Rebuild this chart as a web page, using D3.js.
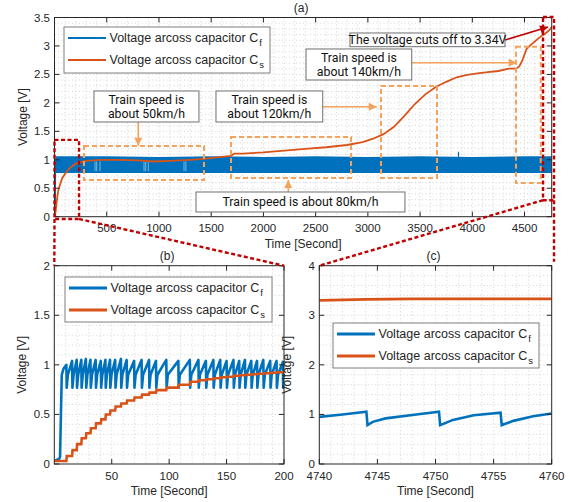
<!DOCTYPE html>
<html lang="en">
<head>
<meta charset="UTF-8">
<script src="https://d3js.org/d3.v7.min.js"></script>
<title>Capacitor voltages</title>
<style>
  body { margin: 0; background: #fff; }
  svg text { font-family: "Liberation Sans", Arial, sans-serif; fill: #262626; }
  .note text { font-family: Roboto, sans-serif; fill: #111; }
</style>
</head>
<body>
<div id="chart"></div>
<script>
// ---------- data ----------
// (a) whole run
var aTime = [0, 10, 20, 35, 50, 75, 100, 150, 200, 250, 300, 450, 600, 800, 950, 1100, 1300, 1450, 1600, 1690,
             1720, 1800, 2000, 2200, 2400, 2600, 2800, 2950, 3050, 3150, 3250, 3350, 3450, 3550, 3650, 3750, 3850, 3950, 4050, 4150,
             4250, 4350, 4420, 4450, 4480, 4520, 4560, 4600, 4650, 4700, 4740, 4760];
var aCs = [0, 0.08, 0.25, 0.45, 0.55, 0.68, 0.75, 0.86, 0.93, 0.96, 0.98, 1.0, 1.0, 0.99, 0.97, 0.98, 1.0, 1.02, 1.05, 1.07,
           1.11, 1.11, 1.13, 1.16, 1.19, 1.22, 1.26, 1.31, 1.37, 1.45, 1.58, 1.77, 1.98, 2.15, 2.28, 2.37, 2.45, 2.49, 2.52, 2.54,
           2.56, 2.60, 2.60, 2.64, 2.75, 2.95, 3.02, 3.08, 3.16, 3.22, 3.28, 3.34];
// Cf oscillates too fast to resolve at this scale: start-up + envelope of the band
var aCfStartT = [0, 6, 9];
var aCfStartV = [0, 0.02, 1.0];
var aBandT  = [9, 500, 1000, 1500, 2000, 2500, 3000, 3500, 4000, 4500, 4760];
var aBandHi = [1.06, 1.06, 1.05, 1.06, 1.05, 1.06, 1.05, 1.06, 1.05, 1.06, 1.06];
var aBandLo = [0.77, 0.77, 0.77, 0.77, 0.77, 0.77, 0.77, 0.77, 0.77, 0.77, 0.77];
var aGapT = [388, 404, 436, 857, 873, 898, 1240, 1258];
var aSpikeT = 3868, aSpikeV = 1.14;

// (b) first 200 s
var bStartT = [0, 4, 5, 6.5, 8];
var bStartV = [0.03, 0.05, 0.07, 0.9, 0.96];
var bPeakT = [10.5, 15.5, 19.5, 23.5, 27.5, 31.5, 36, 40.5, 44.5, 48.5, 53, 58, 63, 69.5, 76, 82.5, 88.5,
              97.5, 108, 118, 125.5, 132, 138.5, 144.5, 150, 156, 161, 166, 171.5, 176.5, 182, 188, 193.5, 199];
var bPeakV = [1.0, 1.04, 1.05, 1.05, 1.06, 1.05, 1.05, 1.04, 1.05, 1.05, 1.05, 1.06, 1.05, 1.04, 1.05, 1.05, 1.04,
              1.05, 1.04, 1.05, 1.05, 1.04, 1.05, 1.05, 1.04, 1.05, 1.04, 1.05, 1.04, 1.04, 1.05, 1.04, 1.04, 1.03];
var bTroughV = 0.77;
var bKneeDt = 1.0, bKneeV = 0.9;   // recharge is fast at first, then flattens
var bEndV = 0.95;
var bCs0 = 0.03;
var bCsStep = [0.08, 0.14, 0.20, 0.26, 0.31, 0.36, 0.41, 0.45, 0.50, 0.54, 0.58, 0.61, 0.64, 0.67, 0.70, 0.72, 0.745,
               0.77, 0.80, 0.83, 0.845, 0.855, 0.865, 0.875, 0.88, 0.89, 0.895, 0.90, 0.905, 0.91, 0.915, 0.92, 0.925, 0.93];

// (c) last 20 s
var cTime = [4740, 4742, 4744.05, 4744.15, 4744.6, 4745.7, 4748.0, 4750.3, 4750.4, 4751.5, 4753.3, 4755.6, 4755.7, 4756.7, 4758.4, 4760];
var cCf   = [0.95, 1.00, 1.055, 0.785, 0.85, 0.92, 0.99, 1.055, 0.785, 0.89, 0.985, 1.035, 0.785, 0.87, 0.965, 1.02];
var cCsT = [4740, 4742, 4744, 4748, 4760];
var cCs  = [3.30, 3.31, 3.32, 3.33, 3.33];

var legendLabels = ["f", "s"];

// ---------- drawing ----------
var blue = "#0072BD", orange = "#D95319", noteOrange = "#F5A25D", red = "#C00000";

var svg = d3.select("#chart").append("svg").attr("width", 570).attr("height", 502);
var defs = svg.append("defs");
[["ahOrange", noteOrange], ["ahRed", red]].forEach(function (m) {
  defs.append("marker").attr("id", m[0]).attr("viewBox", "0 0 10 10")
    .attr("refX", 10).attr("refY", 5).attr("markerUnits", "userSpaceOnUse")
    .attr("markerWidth", 9).attr("markerHeight", 8).attr("orient", "auto")
    .append("path").attr("d", "M0,0L10,5L0,10z").attr("fill", m[1]);
});

function panel(id, box, xDom, yDom, xTicks, yTicks, xMinor, yMinor, title) {
  var x = d3.scaleLinear().domain(xDom).range([box.l, box.r]);
  var y = d3.scaleLinear().domain(yDom).range([box.b, box.t]);
  var g = svg.append("g");
  defs.append("clipPath").attr("id", "clip" + id).append("rect")
    .attr("x", box.l).attr("y", box.t).attr("width", box.r - box.l).attr("height", box.b - box.t);

  // grid
  var grid = g.append("g");
  grid.selectAll(".mx").data(d3.range(xDom[0], xDom[1], xMinor).slice(1)).enter().append("line")
    .attr("x1", x).attr("x2", x).attr("y1", box.t).attr("y2", box.b)
    .attr("stroke", "#d4d4d4").attr("stroke-dasharray", "1,2.5");
  grid.selectAll(".my").data(d3.range(yDom[0], yDom[1], yMinor).slice(1)).enter().append("line")
    .attr("y1", y).attr("y2", y).attr("x1", box.l).attr("x2", box.r)
    .attr("stroke", "#d4d4d4").attr("stroke-dasharray", "1,2.5");

  var plot = g.append("g").attr("clip-path", "url(#clip" + id + ")");

  var ax = g.append("g");
  ax.append("rect").attr("x", box.l).attr("y", box.t).attr("width", box.r - box.l).attr("height", box.b - box.t)
    .attr("fill", "none").attr("stroke", "#262626").attr("stroke-width", 1);
  ax.selectAll(".tx").data(xTicks).enter().append("path")
    .attr("d", function (d) { return "M" + x(d) + "," + box.b + "v-5M" + x(d) + "," + box.t + "v5"; })
    .attr("stroke", "#262626");
  ax.selectAll(".ty").data(yTicks).enter().append("path")
    .attr("d", function (d) { return "M" + box.l + "," + y(d) + "h5M" + box.r + "," + y(d) + "h-5"; })
    .attr("stroke", "#262626");
  ax.selectAll(".lx").data(xTicks).enter().append("text")
    .attr("x", x).attr("y", box.b + 15.5).attr("text-anchor", "middle").attr("font-size", 11.5)
    .text(function (d) { return String(d); });
  ax.selectAll(".ly").data(yTicks).enter().append("text")
    .attr("x", box.l - 4.5).attr("y", y).attr("dy", "0.35em").attr("text-anchor", "end").attr("font-size", 11.5)
    .text(function (d) { return String(d); });
  ax.append("text").attr("x", (box.l + box.r) / 2).attr("y", box.b + 31).attr("text-anchor", "middle")
    .attr("font-size", 12).text("Time [Second]");
  ax.append("text").attr("transform", "translate(" + (box.l - 28) + "," + ((box.t + box.b) / 2) + ") rotate(-90)")
    .attr("text-anchor", "middle").attr("font-size", 12).text("Voltage [V]");
  ax.append("text").attr("x", (box.l + box.r) / 2 - 2).attr("y", box.t - 6).attr("text-anchor", "middle")
    .attr("font-size", 12).text(title);
  return { x: x, y: y, plot: plot, box: box };
}

function legend(px, py, w, h, lw) {
  var lg = svg.append("g");
  lg.append("rect").attr("x", px).attr("y", py).attr("width", w).attr("height", h)
    .attr("fill", "#fff").attr("stroke", "#7f7f7f").attr("stroke-width", 1);
  [blue, orange].forEach(function (c, i) {
    var yy = py + 11 + i * 22;
    lg.append("line").attr("x1", px + 4).attr("x2", px + 42).attr("y1", yy).attr("y2", yy)
      .attr("stroke", c).attr("stroke-width", lw);
    var t = lg.append("text").attr("x", px + 45.5).attr("y", yy + 4.3).attr("font-size", 12.5);
    t.append("tspan").text("Voltage arcoss capacitor C");
    t.append("tspan").attr("dy", 4).attr("font-size", 9.5).attr("dx", 1).text(legendLabels[i]);
  });
}

var line = function (p) {
  return d3.line().x(function (d) { return p.x(d[0]); }).y(function (d) { return p.y(d[1]); });
};

// ----- panel (a)
var A = panel("a", { l: 54.5, r: 551.7, t: 17.5, b: 216.7 }, [0, 4760], [0, 3.5],
  [500, 1000, 1500, 2000, 2500, 3000, 3500, 4000, 4500], [0, 0.5, 1, 1.5, 2, 2.5, 3, 3.5], 100, 0.1, "(a)");
A.plot.append("path").datum(aCfStartT.map(function (t, i) { return [t, aCfStartV[i]]; }))
  .attr("d", line(A)).attr("fill", "none").attr("stroke", blue).attr("stroke-width", 1.5);
A.plot.append("path").datum(aBandT.map(function (t, i) { return [t, aBandLo[i], aBandHi[i]]; }))
  .attr("d", d3.area().x(function (d) { return A.x(d[0]); }).y0(function (d) { return A.y(d[1]); }).y1(function (d) { return A.y(d[2]); }))
  .attr("fill", blue);
A.plot.selectAll(".gap").data(aGapT).enter().append("line")
  .attr("x1", A.x).attr("x2", A.x).attr("y1", A.y(0.97)).attr("y2", A.y(0.80))
  .attr("stroke", "#ffffff").attr("stroke-opacity", 0.6).attr("stroke-width", 0.8);
A.plot.append("line").attr("x1", A.x(aSpikeT)).attr("x2", A.x(aSpikeT)).attr("y1", A.y(1.04)).attr("y2", A.y(aSpikeV))
  .attr("stroke", blue).attr("stroke-width", 1.2);
A.plot.append("path").datum(aTime.map(function (t, i) { return [t, aCs[i]]; }))
  .attr("d", line(A)).attr("fill", "none").attr("stroke", orange).attr("stroke-width", 1.8);

// ----- panel (b)
var B = panel("b", { l: 54.3, r: 284, t: 265.7, b: 464 }, [0, 200], [0, 2],
  [50, 100, 150, 200], [0, 0.5, 1, 1.5, 2], 10, 0.1, "(b)");
var bCf = bStartT.map(function (t, i) { return [t, bStartV[i]]; });
bPeakT.forEach(function (t, i) {
  bCf.push([t, bPeakV[i]]);
  bCf.push([t + 0.3, bTroughV]);
  if (t + 0.3 + bKneeDt < 200) bCf.push([t + 0.3 + bKneeDt, bKneeV]);
});
bCf.push([200, bEndV]);
var bCsPts = [[0, bCs0]];
bPeakT.forEach(function (t, i) {
  bCsPts.push([t, i ? bCsStep[i - 1] : bCs0]);
  bCsPts.push([t + 0.4, bCsStep[i]]);
});
bCsPts.push([200, bCsStep[bCsStep.length - 1]]);
B.plot.append("path").datum(bCf).attr("d", line(B)).attr("fill", "none")
  .attr("stroke", blue).attr("stroke-width", 2.6).attr("stroke-linejoin", "round");
B.plot.append("path").datum(bCsPts).attr("d", line(B)).attr("fill", "none")
  .attr("stroke", orange).attr("stroke-width", 2.6);

// ----- panel (c)
var C = panel("c", { l: 319.3, r: 551.7, t: 265.7, b: 464 }, [4740, 4760], [0, 4],
  [4740, 4745, 4750, 4755, 4760], [0, 1, 2, 3, 4], 1, 0.2, "(c)");
C.plot.append("path").datum(cTime.map(function (t, i) { return [t, cCf[i]]; }))
  .attr("d", line(C)).attr("fill", "none").attr("stroke", blue).attr("stroke-width", 2.6);
C.plot.append("path").datum(cCsT.map(function (t, i) { return [t, cCs[i]]; }))
  .attr("d", line(C)).attr("fill", "none").attr("stroke", orange).attr("stroke-width", 2.6);

// legends
legend(64, 27, 206, 46, 2.2);
legend(65, 277, 207, 45, 3);
legend(333, 323, 206, 45, 3);

// ----- annotations on (a), in data units [t0, t1, v0, v1]
var notes = svg.append("g").attr("class", "note");
var dashBoxes = [[282, 1431, 0.645, 1.242], [1690, 2839, 0.68, 1.40], [3126, 3662, 0.68, 2.297], [4418, 4655, 0.592, 2.987]];
notes.selectAll(".db").data(dashBoxes).enter().append("rect")
  .attr("x", function (d) { return A.x(d[0]); }).attr("y", function (d) { return A.y(d[3]); })
  .attr("width", function (d) { return A.x(d[1]) - A.x(d[0]); }).attr("height", function (d) { return A.y(d[2]) - A.y(d[3]); })
  .attr("fill", "none").attr("stroke", noteOrange).attr("stroke-width", 2).attr("stroke-dasharray", "5,3");

var textBoxes = [
  { b: [378, 1383, 1.664, 2.209], t: ["Train speed is", "about 50km/h"] },
  { b: [1546, 2568, 1.664, 2.209], t: ["Train speed is", "about 120km/h"] },
  { b: [1355, 3355, 0.083, 0.434], t: ["Train speed is about 80km/h"] },
  { b: [2408, 3420, 2.402, 2.947], t: ["Train speed is", "about 140km/h"] },
  { b: [2829, 4313, 2.987, 3.228], t: ["The voltage cuts off to 3.34V"] }
];
var arrows = [
  { p: [802, 802, 1.664, 1.248], c: noteOrange, m: "ahOrange" },
  { p: [2568, 3085, 1.933, 1.933], c: noteOrange, m: "ahOrange" },
  { p: [2238, 2238, 0.434, 0.645], c: noteOrange, m: "ahOrange" },
  { p: [3420, 4425, 2.706, 2.706], c: noteOrange, m: "ahOrange" },
  { p: [4313, 4725, 3.105, 3.333], c: red, m: "ahRed" }
];
arrows.forEach(function (a) {
  notes.append("line").attr("x1", A.x(a.p[0])).attr("x2", A.x(a.p[1])).attr("y1", A.y(a.p[2])).attr("y2", A.y(a.p[3]))
    .attr("stroke", a.c).attr("stroke-width", 1.6).attr("marker-end", "url(#" + a.m + ")");
});
textBoxes.forEach(function (tb) {
  var x0 = A.x(tb.b[0]), x1 = A.x(tb.b[1]), y0 = A.y(tb.b[3]), y1 = A.y(tb.b[2]);
  notes.append("rect").attr("x", x0).attr("y", y0).attr("width", x1 - x0).attr("height", y1 - y0)
    .attr("fill", "#fff").attr("stroke", "#6f6f6f").attr("stroke-width", 1);
  var cy = (y0 + y1) / 2;
  tb.t.forEach(function (s, i) {
    notes.append("text").attr("x", (x0 + x1) / 2).attr("y", cy + (i - (tb.t.length - 1) / 2) * 14)
      .attr("dy", "0.36em").attr("text-anchor", "middle").attr("font-size", 12.3).text(s);
  });
});

// zoom frames (red dashed) linking (a) to (b) and (c)
var zoomBoxes = [[0, 235, -0.04, 1.35], [4677, 4782, 0.29, 3.51]];
var zoomG = svg.append("g").attr("fill", "none").attr("stroke", red).attr("stroke-width", 2.4).attr("stroke-dasharray", "4,2.5");
zoomBoxes.forEach(function (d) {
  zoomG.append("rect").attr("x", A.x(d[0])).attr("y", A.y(d[3]))
    .attr("width", A.x(d[1]) - A.x(d[0])).attr("height", A.y(d[2]) - A.y(d[3]));
});
var links = [
  [A.x(zoomBoxes[0][0]), A.y(zoomBoxes[0][2]), B.box.l, B.box.t],
  [A.x(zoomBoxes[0][1]), A.y(zoomBoxes[0][2]), B.box.r, B.box.t],
  [A.x(zoomBoxes[1][0]), A.y(zoomBoxes[1][2]), C.box.l, C.box.t],
  [A.x(zoomBoxes[1][1]), A.y(zoomBoxes[1][2]), A.x(zoomBoxes[1][1]), C.box.t - 4]
];
links.forEach(function (l) {
  zoomG.append("line").attr("x1", l[0]).attr("y1", l[1]).attr("x2", l[2]).attr("y2", l[3]);
});
</script>
</body>
</html>
